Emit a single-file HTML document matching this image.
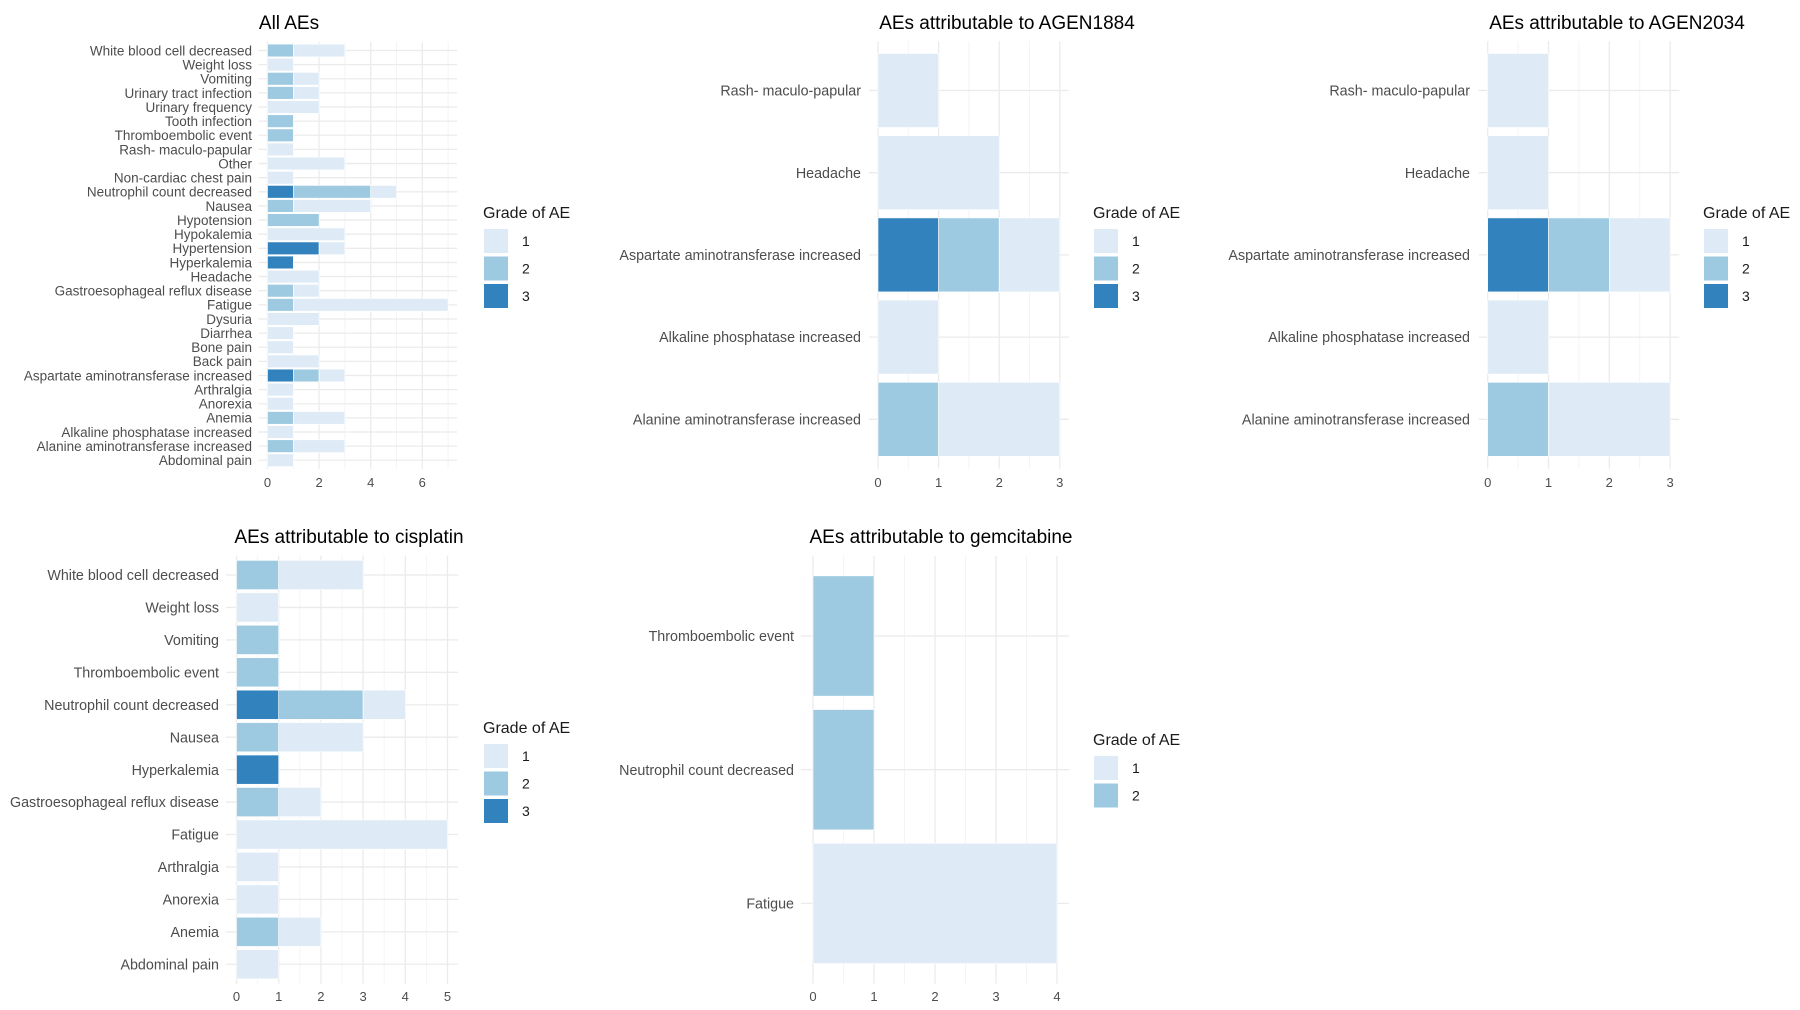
<!DOCTYPE html>
<html><head><meta charset="utf-8"><style>
html,body{margin:0;padding:0;background:#fff;}
svg{display:block;font-family:"Liberation Sans",sans-serif;}
</style></head><body>
<svg id="c" width="1800" height="1010" viewBox="0 0 1800 1010"></svg>
<script>
const allCats=["White blood cell decreased","Weight loss","Vomiting","Urinary tract infection","Urinary frequency","Tooth infection","Thromboembolic event","Rash- maculo-papular","Other","Non-cardiac chest pain","Neutrophil count decreased","Nausea","Hypotension","Hypokalemia","Hypertension","Hyperkalemia","Headache","Gastroesophageal reflux disease","Fatigue","Dysuria","Diarrhea","Bone pain","Back pain","Aspartate aminotransferase increased","Arthralgia","Anorexia","Anemia","Alkaline phosphatase increased","Alanine aminotransferase increased","Abdominal pain"];
const allG3=[0,0,0,0,0,0,0,0,0,0,1,0,0,0,2,1,0,0,0,0,0,0,0,1,0,0,0,0,0,0];
const allG2=[1,0,1,1,0,1,1,0,0,0,3,1,2,0,0,0,0,1,1,0,0,0,0,1,0,0,1,0,1,0];
const allG1=[2,1,1,1,2,0,0,1,3,1,1,3,0,3,1,0,2,1,6,2,1,1,2,1,1,1,2,1,2,1];
const allTicks=[0,2,4,6];

const a1Cats=["Rash- maculo-papular","Headache","Aspartate aminotransferase increased","Alkaline phosphatase increased","Alanine aminotransferase increased"];
const a1G3=[0,0,1,0,0];
const a1G2=[0,0,1,0,1];
const a1G1=[1,2,1,1,2];
const a2G3=[0,0,1,0,0];
const a2G2=[0,0,1,0,1];
const a2G1=[1,1,1,1,2];
const aTicks=[0,1,2,3];

const cisCats=["White blood cell decreased","Weight loss","Vomiting","Thromboembolic event","Neutrophil count decreased","Nausea","Hyperkalemia","Gastroesophageal reflux disease","Fatigue","Arthralgia","Anorexia","Anemia","Abdominal pain"];
const cisG3=[0,0,0,0,1,0,1,0,0,0,0,0,0];
const cisG2=[1,0,1,1,2,1,0,1,0,0,0,1,0];
const cisG1=[2,1,0,0,1,2,0,1,5,1,1,1,1];
const cisTicks=[0,1,2,3,4,5];

const gemCats=["Thromboembolic event","Neutrophil count decreased","Fatigue"];
const gemG3=[0,0,0];
const gemG2=[1,1,0];
const gemG1=[0,0,4];
const gemTicks=[0,1,2,3,4];

const NS="http://www.w3.org/2000/svg";
const svg=document.getElementById('c');
const COL={1:"#deebf7",2:"#9ecae1",3:"#3182bd"};
function mk(tag,attrs,parent){const e=document.createElementNS(NS,tag);for(const k in attrs)e.setAttribute(k,attrs[k]);(parent||svg).appendChild(e);return e;}

function panel(o){
  const g=mk('g',{});
  
  
  const n=o.cats.length;
  const totals=o.cats.map((c,i)=>o.g3[i]+o.g2[i]+o.g1[i]);
  const xmax=Math.max(...totals);
  const pad=xmax*0.05;
  const X=v=>o.x0+v*o.unit;
  const Y=i=>o.yTop+i*o.step;
  const left=X(-pad), right=X(xmax+pad);
  const top=Y(0)-0.6*o.step, bot=Y(n-1)+0.6*o.step;
  for(let v=0;v<=xmax+pad;v+=o.minor){
    const ln=mk('line',{x1:X(v),x2:X(v),y1:top,y2:bot,stroke:o.ticks.includes(v)?"#ebebeb":"#f4f4f4","stroke-width":o.ticks.includes(v)?1.3:1},g);
    
    
  }
  o.cats.forEach((c,i)=>{
    const ln=mk('line',{x1:left,x2:right,y1:Y(i),y2:Y(i),stroke:"#ebebeb","stroke-width":1.3},g);
    
    
  });
  const bh=o.step*0.9;
  o.cats.forEach((c,i)=>{
    let s=0;
    [[3,o.g3[i]],[2,o.g2[i]],[1,o.g1[i]]].forEach(([gr,v])=>{
      if(v>0){
        const r=mk('rect',{x:X(s),y:Y(i)-bh/2,width:X(s+v)-X(s),height:bh,fill:COL[gr],stroke:"#fff","stroke-width":0.6},g);
        
        
        s+=v;
      }
    });
    const t=mk('text',{x:o.labelX,y:Y(i)+o.lfs*0.36,"text-anchor":"end","font-size":o.lfs,fill:"#4d4d4d"},g);
    t.textContent=c;
    
    
  });
  o.ticks.forEach(v=>{
    const t=mk('text',{x:X(v),y:o.tickY,"text-anchor":"middle","font-size":13,fill:"#4d4d4d"},g);
    t.textContent=v;
    
    
  });
  const ti=mk('text',{x:o.titleX,y:o.titleY,"text-anchor":"middle","font-size":19,fill:"#000"},g);
  ti.textContent=o.title;
  
  
  const lg=mk('g',{},g);
  
  
  const lt=mk('text',{x:o.legX,y:o.legY,"font-size":16,fill:"#1a1a1a"},lg);
  lt.textContent="Grade of AE";
  
  
  o.grades.forEach((gr,k)=>{
    const ky=o.legY+11+k*27.5;
    const r=mk('rect',{x:o.legX+1,y:ky,width:24,height:24,fill:COL[gr]},lg);
    
    
    const t=mk('text',{x:o.legX+39,y:ky+17,"font-size":14,fill:"#1a1a1a"},lg);
    t.textContent=gr;
    
    
  });
}

panel({name:'panel-all-aes',title:'All AEs',cats:allCats,g3:allG3,g2:allG2,g1:allG1,ticks:allTicks,minor:1,
  x0:267.5,unit:25.8,yTop:50.5,step:14.13,labelX:252,lfs:13.5,tickY:487,titleX:289,titleY:29,legX:483,legY:218,grades:[1,2,3]});
panel({name:'panel-agen1884',title:'AEs attributable to AGEN1884',cats:a1Cats,g3:a1G3,g2:a1G2,g1:a1G1,ticks:aTicks,minor:0.5,
  x0:878,unit:60.6,yTop:90.5,step:82.2,labelX:861,lfs:14.3,tickY:487,titleX:1007,titleY:29,legX:1093,legY:218,grades:[1,2,3]});
panel({name:'panel-agen2034',title:'AEs attributable to AGEN2034',cats:a1Cats,g3:a2G3,g2:a2G2,g1:a2G1,ticks:aTicks,minor:0.5,
  x0:1487.7,unit:60.8,yTop:90.5,step:82.2,labelX:1470,lfs:14.3,tickY:487,titleX:1617,titleY:29,legX:1703,legY:218,grades:[1,2,3]});
panel({name:'panel-cisplatin',title:'AEs attributable to cisplatin',cats:cisCats,g3:cisG3,g2:cisG2,g1:cisG1,ticks:cisTicks,minor:0.5,
  x0:236.5,unit:42.2,yTop:575,step:32.44,labelX:219,lfs:14.3,tickY:1001,titleX:349,titleY:543,legX:483,legY:733,grades:[1,2,3]});
panel({name:'panel-gemcitabine',title:'AEs attributable to gemcitabine',cats:gemCats,g3:gemG3,g2:gemG2,g1:gemG1,ticks:gemTicks,minor:0.5,
  x0:813,unit:61,yTop:636,step:133.7,labelX:794,lfs:14.3,tickY:1001,titleX:941,titleY:543,legX:1093,legY:745,grades:[1,2]});
</script>
</body></html>
